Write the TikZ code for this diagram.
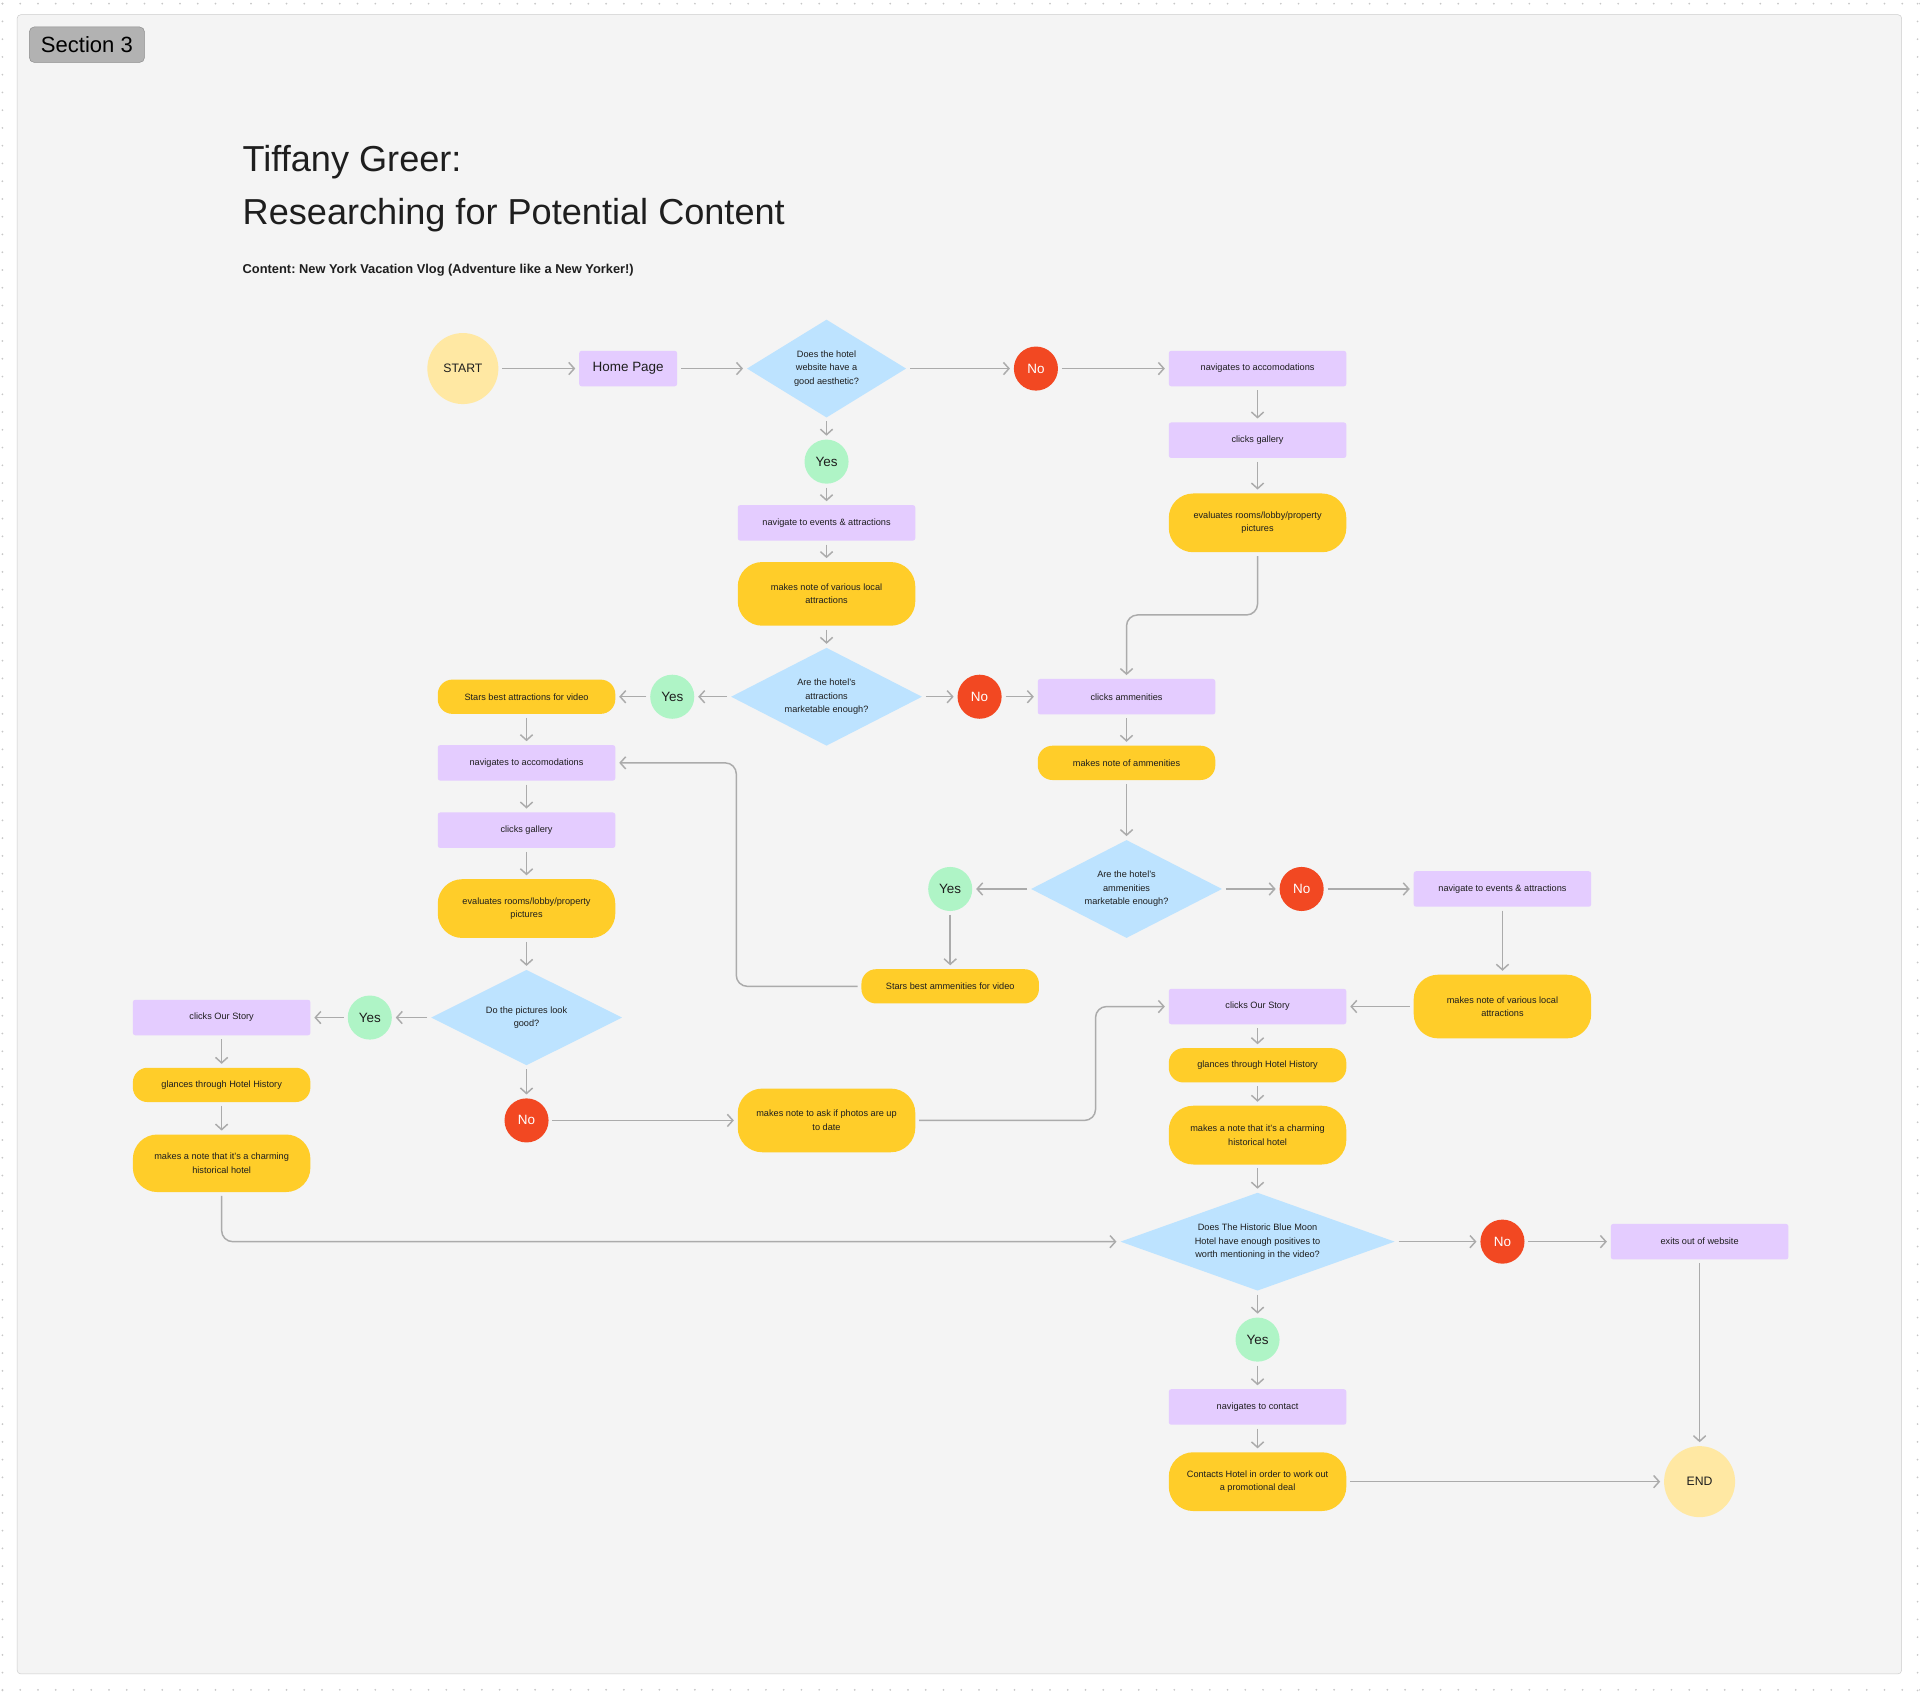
\documentclass[tikz,border=0pt]{standalone}
\usepackage{fontspec}
\setmainfont{Liberation Sans}
\usetikzlibrary{arrows.meta,shapes.geometric,positioning}
\frenchspacing
\definecolor{lilac}{HTML}{E4CCFF}
\definecolor{gold}{HTML}{FFCD29}
\definecolor{cream}{HTML}{FFE8A3}
\definecolor{sky}{HTML}{BDE3FF}
\definecolor{mint}{HTML}{AFF4C6}
\definecolor{tomato}{HTML}{F24822}
\definecolor{panel}{HTML}{F4F4F4}
\definecolor{wire}{HTML}{ABABAB}
\definecolor{ink}{HTML}{1E1E1E}
\newcommand{\nodefont}{\fontsize{7.5}{11}\selectfont}
\tikzstyle{aS}=[every edge/.style={draw=wire,line width=1.2pt,-{Straight Barb[length=4.5pt,width=10pt]},shorten >=3pt,shorten <=3pt}]
\tikzstyle{Abend}=[draw=wire,line width=1.2pt,-{Straight Barb[length=4.5pt,width=10pt]},shorten >=3pt,shorten <=3pt,rounded corners=9pt]
\tikzstyle{Aproc}=[fill=lilac,rounded corners=2pt,minimum width=145pt,minimum height=29pt,inner sep=0,align=center,text=ink,font=\nodefont]
\tikzstyle{Anote}=[fill=gold,rounded corners=12pt,minimum width=145pt,minimum height=28pt,inner sep=0,align=center,text=ink,font=\nodefont]
\tikzstyle{Atall}=[Anote,rounded corners=20pt,minimum height=48pt]
\tikzstyle{Aask}=[diamond,fill=sky,inner sep=0,align=center,text=ink,font=\nodefont,minimum height=80pt]
\tikzstyle{Ayes}=[circle,fill=mint,minimum size=36pt,inner sep=0,text=ink,font=\fontsize{11}{11}\selectfont]
\tikzstyle{Ano}=[circle,fill=tomato,minimum size=36pt,inner sep=0,text=white,font=\fontsize{11}{11}\selectfont]
\tikzstyle{Aterm}=[circle,fill=cream,minimum size=58pt,inner sep=0,text=ink,font=\fontsize{10}{10}\selectfont]
\begin{document}
\begin{tikzpicture}[aS, x=1pt, y=-1pt]
  \useasboundingbox (0,0) rectangle (1568,1383);
  \fill[white] (0,0) rectangle (1568,1383);
  \foreach \i in {0,...,108} {
    \fill[black!22] (2+14.5*\i,3) circle (0.8);
    \fill[black!22] (2+14.5*\i,1380) circle (0.8);
  }
  \foreach \i in {0,...,95} {
    \fill[black!22] (2,3+14.5*\i) circle (0.8);
    \fill[black!22] (1566,3+14.5*\i) circle (0.8);
  }
  \draw[black!20,fill=panel,rounded corners=3pt] (14,12) rectangle (1553,1367);
  \node[draw=black!45,fill=black!30,rounded corners=4pt,minimum width=94pt,minimum height=29pt,inner sep=0,
        font=\fontsize{18}{18}\selectfont] (sect) at (71,36.5) {Section 3};

  \node[anchor=base west,inner sep=0,font=\fontsize{29.5}{30}\selectfont,text=ink] (title) at (198,140) {Tiffany Greer:};
  \node[anchor=base west,inner sep=0,font=\fontsize{29.5}{30}\selectfont,text=ink] (title2) at (198,183) {Researching for Potential Content};
  \node[anchor=base west,inner sep=0,font=\bfseries\fontsize{10.5}{10.5}\selectfont,text=ink] (sub) at (198,223) {Content: New York Vacation Vlog (Adventure like a New Yorker!)};

  % top row
  \node[Aterm] (start) at (378,301) {START};
  \node[Aproc,minimum width=80pt,font=\fontsize{11}{11}\selectfont] (home) at (513,301) {Home Page};
  \node[Aask,minimum width=130pt,aspect=1.62] (qlook) at (675,301) {Does the hotel\\website have a\\good aesthetic?};
  \node[Ano] (no1) at (846,301) {No};
  \node[Aproc] (acc1) at (1027,301) {navigates to accomodations};
  \node[Aproc] (gal1) at (1027,359.5) {clicks gallery};
  \node[Atall] (eval1) at (1027,427) {evaluates rooms/lobby/property\\pictures};

  % middle column
  \node[Ayes] (yes1) at (675,377) {Yes};
  \node[Aproc] (ev1) at (675,427) {navigate to events \& attractions};
  \node[Atall,minimum height=52pt] (note1) at (675,485) {makes note of various local\\attractions};
  \node[Aask,minimum width=156pt,aspect=1.95] (qattr) at (675,569) {Are the hotel’s\\attractions\\marketable enough?};
  \node[Ayes] (yes2) at (549,569) {Yes};
  \node[Anote] (stars1) at (430,569) {Stars best attractions for video};
  \node[Ano] (no2) at (800,569) {No};
  \node[Aproc] (amen) at (920,569) {clicks ammenities};
  \node[Anote] (noteam) at (920,623) {makes note of ammenities};
  \node[Aask,minimum width=156pt,aspect=1.95] (qamen) at (920,726) {Are the hotel’s\\ammenities\\marketable enough?};
  \node[Ayes] (yes3) at (776,726) {Yes};
  \node[Anote] (stars2) at (776,805.5) {Stars best ammenities for video};
  \node[Ano] (no3) at (1063,726) {No};
  \node[Aproc] (ev2) at (1227,726) {navigate to events \& attractions};
  \node[Atall,minimum height=52pt] (note2) at (1227,822) {makes note of various local\\attractions};

  % left column
  \node[Aproc] (acc2) at (430,623) {navigates to accomodations};
  \node[Aproc] (gal2) at (430,678) {clicks gallery};
  \node[Atall] (eval2) at (430,742) {evaluates rooms/lobby/property\\pictures};
  \node[Aask,minimum width=156pt,minimum height=78pt,aspect=2] (qpics) at (430,831) {Do the pictures look\\good?};
  \node[Ayes] (yes4) at (302,831) {Yes};
  \node[Aproc] (story1) at (181,831) {clicks Our Story};
  \node[Anote] (hist1) at (181,886) {glances through Hotel History};
  \node[Atall,minimum height=47pt] (charm1) at (181,950) {makes a note that it’s a charming\\historical hotel};
  \node[Ano] (no4) at (430,915) {No};
  \node[Atall,minimum height=52pt] (ask) at (675,915) {makes note to ask if photos are up\\to date};

  % right column
  \node[Aproc] (story2) at (1027,822) {clicks Our Story};
  \node[Anote] (hist2) at (1027,870) {glances through Hotel History};
  \node[Atall] (charm2) at (1027,927) {makes a note that it’s a charming\\historical hotel};
  \node[Aask,minimum width=224pt,aspect=2.8] (qblue) at (1027,1014) {Does The Historic Blue Moon\\Hotel have enough positives to\\worth mentioning in the video?};
  \node[Ano] (no5) at (1227,1014) {No};
  \node[Aproc] (exit) at (1388,1014) {exits out of website};
  \node[Ayes] (yes5) at (1027,1094) {Yes};
  \node[Aproc] (contact) at (1027,1149) {navigates to contact};
  \node[Atall] (deal) at (1027,1210) {Contacts Hotel in order to work out\\a promotional deal};
  \node[Aterm] (end) at (1388,1210) {END};

  \path (start) edge (home)
        (home) edge (qlook)
        (qlook) edge (no1)
        (no1) edge (acc1)
        (acc1) edge (gal1)
        (gal1) edge (eval1)
        (qlook) edge (yes1)
        (yes1) edge (ev1)
        (ev1) edge (note1)
        (note1) edge (qattr)
        (qattr) edge (yes2)
        (yes2) edge (stars1)
        (qattr) edge (no2)
        (no2) edge (amen)
        (amen) edge (noteam)
        (noteam) edge (qamen)
        (qamen) edge (yes3)
        (yes3) edge (stars2)
        (qamen) edge (no3)
        (no3) edge (ev2)
        (ev2) edge (note2)
        (note2) edge (story2)
        (stars1) edge (acc2)
        (acc2) edge (gal2)
        (gal2) edge (eval2)
        (eval2) edge (qpics)
        (qpics) edge (yes4)
        (yes4) edge (story1)
        (story1) edge (hist1)
        (hist1) edge (charm1)
        (qpics) edge (no4)
        (no4) edge (ask)
        (story2) edge (hist2)
        (hist2) edge (charm2)
        (charm2) edge (qblue)
        (qblue) edge (no5)
        (no5) edge (exit)
        (qblue) edge (yes5)
        (yes5) edge (contact)
        (contact) edge (deal)
        (deal) edge (end)
        (exit) edge (end);

  \draw[Abend] (eval1.south) -- ++(0,51) -| (amen.north);
  \draw[Abend] (stars2.west) -- ++(-102,0) |- (acc2.east);
  \draw[Abend] (ask.east) -- ++(147,0) |- (story2.west);
  \draw[Abend] (charm1.south) |- (qblue.west);
\end{tikzpicture}
\end{document}
